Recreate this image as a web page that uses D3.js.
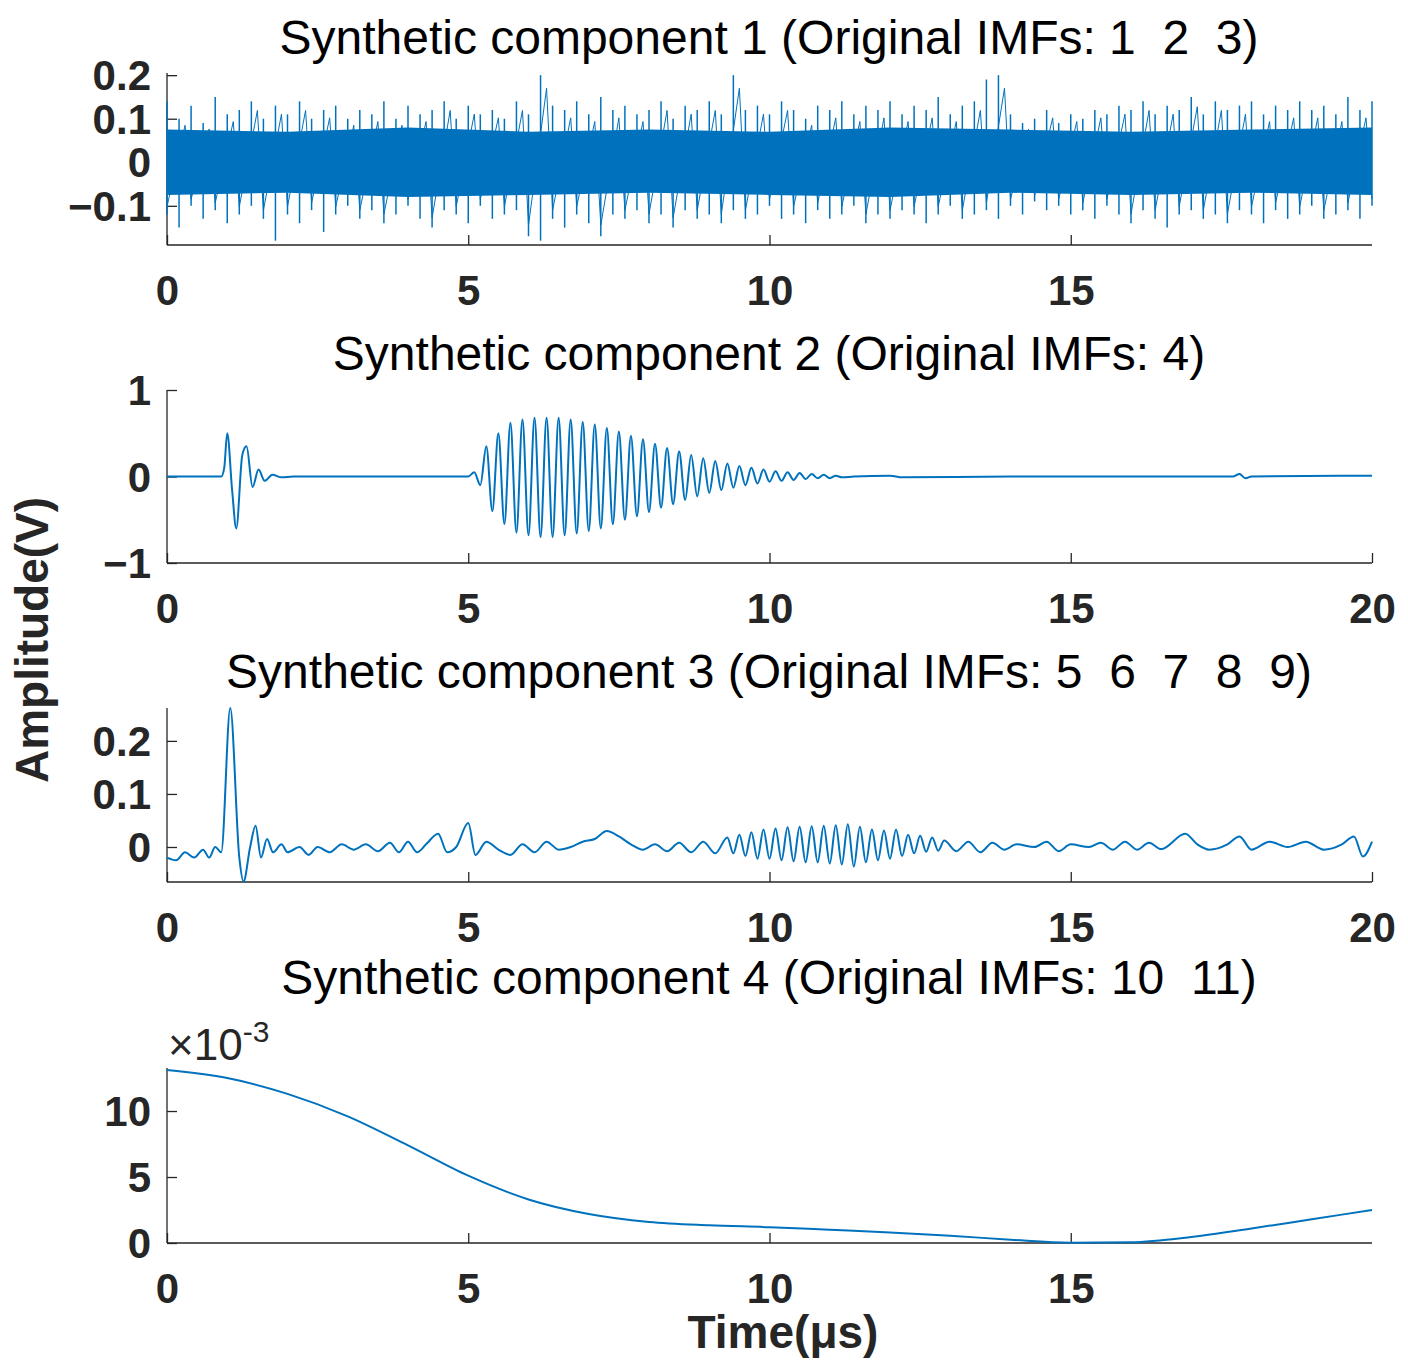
<!DOCTYPE html>
<html><head><meta charset="utf-8">
<script src="https://cdn.jsdelivr.net/npm/d3@7"></script>
<style>
body{margin:0;background:#fff;}
svg{font-family:Arial,"Liberation Sans",sans-serif;}
.tick text{font-weight:bold;font-size:42px;fill:#262626;}
.domain,.tick line{stroke:#262626;stroke-width:1.3;}
.title{white-space:pre;}
</style></head>
<body><svg id="viz" width="1408" height="1370"></svg>
<script>
/* ---- data ---- */
const titles = [
  "Synthetic component 1 (Original IMFs: 1  2  3)",
  "Synthetic component 2 (Original IMFs: 4)",
  "Synthetic component 3 (Original IMFs: 5  6  7  8  9)",
  "Synthetic component 4 (Original IMFs: 10  11)"
];
const xTicksShort = [0, 5, 10, 15];
const xTicksFull  = [0, 5, 10, 15, 20];

// component 1: upper / lower envelope every 0.2 us
const c1Step = 0.2;
const c1Hi = [0.14,0.1,0.13,0.09,0.15,0.11,0.12,0.14,0.1,0.13,
  0.11,0.14,0.1,0.12,0.13,0.1,0.12,0.11,0.14,0.1,
  0.13,0.11,0.12,0.14,0.1,0.13,0.11,0.12,0.1,0.14,
  0.11,0.2,0.13,0.12,0.14,0.11,0.15,0.12,0.13,0.11,
  0.12,0.14,0.1,0.13,0.12,0.14,0.11,0.2,0.12,0.13,
  0.11,0.14,0.12,0.1,0.13,0.12,0.14,0.11,0.13,0.12,
  0.14,0.11,0.13,0.12,0.15,0.11,0.13,0.14,0.19,0.2,
  0.11,0.09,0.1,0.12,0.09,0.11,0.1,0.12,0.11,0.13,
  0.12,0.14,0.11,0.13,0.12,0.15,0.11,0.14,0.12,0.13,
  0.14,0.11,0.13,0.12,0.14,0.12,0.13,0.11,0.15,0.12,0.14];
const c1Lo = [-0.12,-0.15,-0.1,-0.13,-0.11,-0.14,-0.12,-0.1,-0.13,-0.18,
  -0.12,-0.14,-0.11,-0.16,-0.12,-0.1,-0.13,-0.11,-0.14,-0.12,
  -0.1,-0.13,-0.15,-0.11,-0.12,-0.14,-0.1,-0.13,-0.12,-0.11,
  -0.17,-0.18,-0.13,-0.15,-0.12,-0.14,-0.17,-0.12,-0.13,-0.11,
  -0.14,-0.12,-0.15,-0.11,-0.13,-0.12,-0.14,-0.11,-0.13,-0.12,
  -0.1,-0.13,-0.12,-0.14,-0.11,-0.13,-0.12,-0.1,-0.14,-0.12,
  -0.13,-0.11,-0.12,-0.14,-0.12,-0.1,-0.13,-0.12,-0.11,-0.13,
  -0.1,-0.12,-0.09,-0.11,-0.1,-0.12,-0.11,-0.13,-0.1,-0.12,
  -0.14,-0.11,-0.13,-0.15,-0.12,-0.11,-0.13,-0.12,-0.14,-0.11,
  -0.12,-0.14,-0.11,-0.13,-0.12,-0.1,-0.13,-0.12,-0.11,-0.13,-0.1];
// solid core of the noise band
const c1CoreHi = [0.075,0.07,0.08,0.07,0.075,0.07,0.08,0.075,0.07,0.075,0.08];
const c1CoreLo = [-0.075,-0.07,-0.08,-0.075,-0.07,-0.075,-0.08,-0.07,-0.075,-0.07,-0.075];

// component 2: baseline + first burst points [t, v]
const c2Early = [[0,0],[0.9,0],[0.95,0.1],[1.0,0.5],[1.08,-0.15],[1.15,-0.6],[1.25,0.25],
  [1.32,0.35],[1.42,-0.12],[1.52,0.08],[1.62,-0.05],[1.75,0.02],[1.9,-0.01],[2.1,0],[5.0,0]];
// main burst: extrema every half period starting 5.1 us
const c2BurstStart = 5.1, c2BurstStep = 0.1;
const c2Burst = [0.05,-0.1,0.35,-0.4,0.5,-0.55,0.62,-0.65,0.66,-0.68,
  0.68,-0.7,0.68,-0.7,0.68,-0.68,0.66,-0.66,0.63,-0.63,
  0.6,-0.6,0.56,-0.55,0.52,-0.5,0.47,-0.46,0.43,-0.41,
  0.38,-0.36,0.33,-0.32,0.29,-0.27,0.25,-0.23,0.21,-0.19,
  0.18,-0.16,0.15,-0.13,0.12,-0.1,0.1,-0.08,0.08,-0.06,
  0.06,-0.05,0.05,-0.04,0.04,-0.03,0.03,-0.02,0.02,-0.02,0.01,-0.01];
const c2Late = [[11.4,0],[12.0,0.01],[12.2,-0.01],[14.0,0],[17.7,0],[17.8,0.03],[17.9,-0.02],[18.0,0],[20,0.01]];

// component 3: points [t, v]
const c3Early = [[0,-0.02],[0.15,-0.025],[0.3,-0.01],[0.45,-0.02],[0.6,-0.005],[0.7,-0.02],[0.8,0],[0.9,-0.01],
  [1.05,0.262],[1.2,-0.02],[1.27,-0.065],[1.38,0],[1.47,0.04],[1.56,-0.02],[1.66,0.015],[1.76,-0.01],
  [1.9,0.005],[2.0,-0.01],[2.2,0],[2.35,-0.015],[2.5,0],[2.7,-0.01],[2.9,0.005],[3.1,-0.005],[3.3,0.005],
  [3.5,-0.008],[3.7,0.008],[3.85,-0.01],[4.0,0.01],[4.15,-0.01],[4.3,0.005],[4.5,0.025],[4.65,-0.01],
  [4.8,0],[5.0,0.045],[5.12,-0.015],[5.3,0.01],[5.5,-0.005],[5.7,-0.015],[5.9,0.005],[6.1,-0.01],
  [6.3,0.01],[6.5,-0.005],[6.7,0],[6.9,0.01],[7.1,0.015],[7.3,0.03],[7.5,0.02],[7.7,0.005],[7.9,-0.005],
  [8.1,0.005],[8.3,-0.008],[8.5,0.008],[8.7,-0.01],[8.9,0.01],[9.1,-0.012]];
const c3BurstStart = 9.3, c3BurstStep = 0.1;
const c3Burst = [0.015,-0.015,0.02,-0.02,0.025,-0.025,0.03,-0.025,0.032,-0.028,
  0.034,-0.03,0.035,-0.032,0.036,-0.032,0.037,-0.034,0.038,-0.036,0.04,-0.04,
  0.035,-0.032,0.03,-0.028,0.028,-0.025,0.03,-0.02,0.02,-0.015,0.018,-0.012,0.015,-0.01];
const c3Late = [[12.9,0.012],[13.1,-0.008],[13.3,0.01],[13.5,-0.01],[13.7,0.008],[13.9,-0.005],[14.1,0.005],
  [14.4,0],[14.6,0.01],[14.8,-0.008],[15.0,0.005],[15.3,0],[15.5,0.008],[15.7,-0.005],[15.9,0.01],
  [16.1,-0.005],[16.3,0.008],[16.5,-0.004],[16.9,0.025],[17.1,0.005],[17.3,-0.005],[17.6,0.005],
  [17.8,0.02],[18.0,-0.005],[18.3,0.01],[18.6,0],[18.9,0.01],[19.2,-0.005],[19.5,0.005],
  [19.7,0.02],[19.85,-0.018],[20,0.01]];

// component 4 (x1e-3)
const c4T = [0,1,2,3,4,5,6,7,8,9,10,11,12,13,14,15,16,17,18,19,20];
const c4V = [13.1,12.5,11.3,9.6,7.4,5.1,3.3,2.2,1.6,1.35,1.2,1.0,0.8,0.55,0.25,0.02,0.05,0.45,1.1,1.8,2.5];

/* ---- layout ---- */
const svg = d3.select("#viz");
const blue = "#0072BD";
const x = d3.scaleLinear().domain([0, 20]).range([167, 1372]);

const panels = [
  {top: 73,  bot: 245, dom: [-0.19, 0.205], ticks: [-0.1, 0, 0.1, 0.2], xt: xTicksShort, ty: 37},
  {top: 390, bot: 563, dom: [-1, 1], ticks: [-1, 0, 1], xt: xTicksFull, ty: 353},
  {top: 708, bot: 882, dom: [-0.066, 0.262], ticks: [0, 0.1, 0.2], xt: xTicksFull, ty: 671},
  {top: 1068, bot: 1243, dom: [0, 13.26], ticks: [0, 5, 10], xt: xTicksShort, ty: 977}
];

const fmt = v => v < 0 ? "\u2212" + String(-v) : String(v);

panels.forEach((p, i) => {
  p.y = d3.scaleLinear().domain(p.dom).range([p.bot, p.top]);
  const g = svg.append("g");
  g.append("text").attr("class", "title").attr("x", 769).attr("y", p.ty + 17)
    .attr("text-anchor", "middle").attr("font-size", 48).attr("fill", "#000").text(titles[i]);
  g.append("g").attr("transform", `translate(0,${p.bot})`)
    .call(d3.axisBottom(x).tickValues(p.xt).tickSize(-10).tickPadding(30).tickFormat(fmt))
    .call(a => a.select(".domain").attr("d", `M167,0H1372`));
  g.append("g").attr("transform", `translate(167,0)`)
    .call(d3.axisLeft(p.y).tickValues(p.ticks).tickSize(-10).tickPadding(16).tickFormat(fmt))
    .call(a => a.select(".domain").attr("d", `M0,${p.top}V${p.bot}`))
    .call(a => a.selectAll(".tick text").attr("dy", "0.35em"));
});

/* component 1 : noise spikes + solid core */
const c1 = c1Hi.map((h, i) => ({t: i * c1Step, hi: h, lo: c1Lo[i]}));
const y1 = panels[0].y;
svg.append("g").selectAll("line").data(c1).join("line")
  .attr("x1", d => x(d.t)).attr("x2", d => x(d.t))
  .attr("y1", d => y1(d.lo)).attr("y2", d => y1(d.hi))
  .attr("stroke", blue).attr("stroke-width", 1.5);
svg.append("path").datum(c1)
  .attr("fill", "none").attr("stroke", blue).attr("stroke-width", 1)
  .attr("d", d3.line().x((d, i) => x(d.t + (i % 2 ? 0.1 : 0))).y((d, i) => y1(i % 2 ? d.hi * 0.85 : d.lo * 0.85)));
const core = c1CoreHi.map((h, i) => ({t: i * 2, hi: h, lo: c1CoreLo[i]}));
svg.append("path").datum(core)
  .attr("fill", blue)
  .attr("d", d3.area().x(d => x(d.t)).y0(d => y1(d.lo)).y1(d => y1(d.hi)));

/* component 2 */
const c2 = [...c2Early,
  ...c2Burst.map((v, i) => [c2BurstStart + i * c2BurstStep, v]), ...c2Late];
svg.append("path").datum(c2).attr("fill", "none").attr("stroke", blue).attr("stroke-width", 2)
  .attr("d", d3.line().x(d => x(d[0])).y(d => panels[1].y(d[1])).curve(d3.curveMonotoneX));

/* component 3 */
const c3 = [...c3Early,
  ...c3Burst.map((v, i) => [c3BurstStart + i * c3BurstStep, v + 0.003]), ...c3Late];
svg.append("path").datum(c3).attr("fill", "none").attr("stroke", blue).attr("stroke-width", 2)
  .attr("d", d3.line().x(d => x(d[0])).y(d => panels[2].y(d[1])).curve(d3.curveMonotoneX));

/* component 4 */
svg.append("path").datum(c4T.map((t, i) => [t, c4V[i]]))
  .attr("fill", "none").attr("stroke", blue).attr("stroke-width", 2)
  .attr("d", d3.line().x(d => x(d[0])).y(d => panels[3].y(d[1])).curve(d3.curveMonotoneX));

/* exponent label */
const ex = svg.append("text").attr("x", 168).attr("y", 1060).attr("font-size", 44).attr("fill", "#262626");
ex.append("tspan").text("\u00d710");
ex.append("tspan").attr("dy", -18).attr("font-size", 30).text("-3");

/* axis labels */
svg.append("text").attr("transform", "translate(48,640) rotate(-90)").attr("text-anchor", "middle")
  .attr("font-size", 46).attr("font-weight", "bold").attr("fill", "#262626").text("Amplitude(V)");
svg.append("text").attr("x", 783).attr("y", 1348).attr("text-anchor", "middle")
  .attr("font-size", 46).attr("font-weight", "bold").attr("fill", "#262626").text("Time(\u03bcs)");
</script></body></html>
